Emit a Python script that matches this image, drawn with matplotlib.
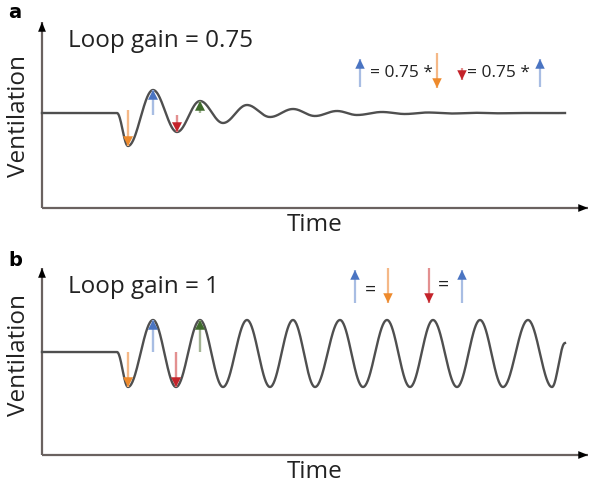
import numpy as np
import matplotlib.pyplot as plt

# schematic values (time, ventilation in arbitrary units)
# panel a: loop gain 0.75, damped oscillation
base_a = 9.5
start_a = 7.5
ext_t_a = [8.6, 11.1, 13.5, 15.8, 18.1, 20.5, 22.8, 25.1, 27.3, 29.5, 31.5, 34.0, 36.3, 38.6,
           41.0, 43.3, 45.7, 48.0, 50.4, 52.3]
ext_v_a = [6.2, 11.8, 7.6, 10.7, 8.5, 10.3, 9.1, 9.9, 9.2, 9.7, 9.3, 9.6, 9.4, 9.55,
           9.45, 9.52, 9.47, 9.5, 9.48, 9.5]

# panel b: loop gain 1, sustained oscillation
base_b = 10.3
start_b = 7.5
ext_t_b = [8.6, 11.1, 13.4, 15.8, 18.1, 20.5, 22.8, 25.1, 27.3, 29.8, 32.1, 34.5, 36.8, 39.1,
           41.5, 43.8, 46.1, 48.6, 51.0, 52.3]
ext_v_b = [6.8, 13.5, 6.8, 13.5, 6.8, 13.5, 6.8, 13.5, 6.8, 13.5, 6.8, 13.5, 6.8, 13.5,
           6.8, 13.5, 6.8, 13.5, 6.8, 11.2]

gain_labels = ["Loop gain = 0.75", "Loop gain = 1"]

# arrow colours: shaft (light) and head
cols = {"orange": ("#f5b887", "#ee8a2c"), "blue": ("#a8bde3", "#4a74c2"),
        "red": ("#e39090", "#c4232a"), "green": ("#a3b494", "#3f6b2c")}


def smooth_wave(t0, v0, ts, vs):
    # half-cosine segments joining the extrema
    pts_t = [t0] + list(ts)
    pts_v = [v0] + list(vs)
    xx, yy = [], []
    for i in range(len(pts_t) - 1):
        s = np.linspace(0, 1, 40)
        xx.extend(pts_t[i] + (pts_t[i + 1] - pts_t[i]) * s)
        yy.extend(pts_v[i] + (pts_v[i + 1] - pts_v[i]) * (1 - np.cos(np.pi * s)) / 2)
    return np.array(xx), np.array(yy)


def arrow(ax, x, y0, y1, col, lw=1.7, hl=0.7, hw=0.36):
    light, dark = cols[col]
    ax.plot([x, x], [y0, y1], color=light, lw=lw, solid_capstyle='butt', zorder=4)
    d = 0.9 if y1 > y0 else -0.9
    ax.annotate('', xy=(x, y1), xytext=(x, y1 - d),
                arrowprops=dict(arrowstyle='-|>,head_length=%s,head_width=%s' % (hl, hw),
                                color=dark, lw=0.01, shrinkA=0, shrinkB=0), zorder=5)


def axis_arrow(ax, x0, y0, x1, y1):
    ax.plot([x0, x1], [y0, y1], color='#6a6260', lw=1.6, solid_capstyle='butt')
    ax.annotate('', xy=(x1, y1), xytext=(x0 + (x1 - x0) * 0.98, y0 + (y1 - y0) * 0.98),
                arrowprops=dict(arrowstyle='-|>,head_length=0.7,head_width=0.28',
                                color='black', lw=0.01, shrinkA=0, shrinkB=0))


def draw_panel(ax, base, t_start, ext_t, ext_v, top, letter, gain, arrows, legend):
    ax.set_xlim(-4.2, 54.8)
    ax.axis('off')
    axis_arrow(ax, 0, 0, 0, top)
    axis_arrow(ax, 0, 0, 54.6, 0)
    xx, yy = smooth_wave(t_start, base, ext_t, ext_v)
    xx = np.concatenate([[0.0], xx])
    yy = np.concatenate([[base], yy])
    ax.plot(xx, yy, color='#4f4f4f', lw=1.7, zorder=3)
    for i, col in enumerate(arrows):
        tip = ext_v[i]
        if letter == 'b':
            y0 = base
        else:
            y0 = [9.8, 9.3, 9.3, 9.5][i]
        arrow(ax, ext_t[i], y0, tip, col)
    ax.text(2.6, top - 1.9, gain, fontsize=17.5, family='Open Sans', color='#222222',
            va='center', ha='left')
    ax.text(-2.3, base - 0.3, 'Ventilation', rotation=90, fontsize=17.5, family='Open Sans',
            color='#222222', va='center', ha='center')
    ax.text(27.3, -1.7, 'Time', fontsize=17.5, family='Open Sans', color='#222222',
            va='center', ha='center')
    for kind, x, a, b, txt in legend:
        if kind == 'arrow':
            arrow(ax, x, a, b, txt, lw=1.6, hl=0.7, hw=0.34)
        else:
            ax.text(x, a, txt, fontsize=b, family='Open Sans', color='#222222',
                    va='center', ha='left')


fig = plt.figure(figsize=(5.9, 4.84), dpi=100)
ax_a = fig.add_axes([0, 1 - 240 / 484, 1, 240 / 484])
ax_a.set_ylim(-3.2, 20.8)
ax_b = fig.add_axes([0, 0, 1, 239 / 484])
ax_b.set_ylim(-2.9, 21.0)

legend_a = [('arrow', 31.8, 12.1, 14.9, 'blue'),
            ('text', 32.8, 13.5, 12.5, '= 0.75 *'),
            ('arrow', 39.5, 15.5, 12.0, 'orange'),
            ('arrow', 42.0, 14.0, 12.8, 'red'),
            ('text', 42.5, 13.5, 12.5, '= 0.75 *'),
            ('arrow', 49.8, 12.1, 14.9, 'blue')]
legend_b = [('arrow', 31.3, 15.2, 18.5, 'blue'),
            ('text', 32.3, 16.5, 14, '='),
            ('arrow', 34.6, 18.7, 15.2, 'orange'),
            ('arrow', 38.7, 18.7, 15.2, 'red'),
            ('text', 39.6, 17.0, 14, '='),
            ('arrow', 42.0, 15.2, 18.5, 'blue')]

draw_panel(ax_a, base_a, start_a, ext_t_a, ext_v_a, 18.6, 'a', gain_labels[0],
           ['orange', 'blue', 'red', 'green'], legend_a)
draw_panel(ax_b, base_b, start_b, ext_t_b, ext_v_b, 18.7, 'b', gain_labels[1],
           ['orange', 'blue', 'red', 'green'], legend_b)

fig.text(15 / 590, 1 - 12 / 484, 'a', fontsize=14, fontweight='bold', ha='center', va='center')
fig.text(15 / 590, 1 - 260 / 484, 'b', fontsize=14, fontweight='bold', ha='center', va='center')

fig.savefig('out.png', dpi=100, facecolor='white')
